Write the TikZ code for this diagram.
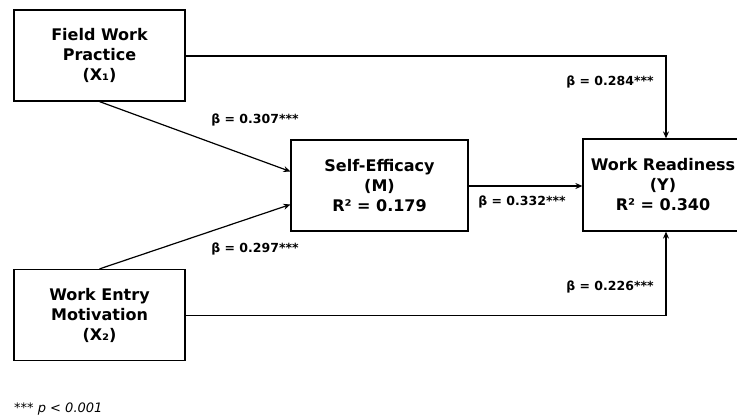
\documentclass[tikz,border=0pt]{standalone}
\usepackage{fontspec}
\setmainfont{DejaVu Sans}
\usetikzlibrary{arrows.meta}
\begin{document}
\begin{tikzpicture}[x=1pt,y=-1pt,
  box/.style={draw,line width=1.2pt,inner sep=0pt,align=center,font=\fontsize{16}{20}\selectfont\bfseries},
  conn/.style={line width=1.2pt},
  arr/.style={conn,-{Stealth[length=7pt,width=6pt]}},
  lab/.style={font=\fontsize{12.5}{14}\selectfont\bfseries,inner sep=0pt}]
\useasboundingbox (0,0) rectangle (737,417);
\clip (0,0) rectangle (737,417);
\node[box,minimum width=171pt,minimum height=91pt] (X1) at (99.5,55.5) {Field Work\\Practice\\(X₁)};
\node[box,minimum width=171pt,minimum height=91pt] (X2) at (99.5,315) {Work Entry\\Motivation\\(X₂)};
\node[box,minimum width=177pt,minimum height=91pt] (M) at (379.5,185.5) {Self-Efficacy\\(M)\\R² = 0.179};
\node[box,minimum width=160pt,minimum height=92pt] (Y) at (663,185) {Work Readiness\\(Y)\\R² = 0.340};
\coordinate (c1) at (666,56);
\coordinate (c2) at (666,315.5);
\draw[arr] (X1.south) -- ([yshift=14pt]M.west);
\draw[arr] (X2.north) -- ([yshift=-19pt]M.west);
\draw[arr] (M.east |- 0,186) -- (Y.west |- 0,186);
\draw[arr] (X1.east |- c1) -- (c1) -- (c1 |- Y.north);
\draw[arr] (X2.east |- c2) -- (c2) -- (c2 |- Y.south);
\node[lab] (l1) at (255,120) {β = 0.307***};
\node[lab] (l2) at (255,249) {β = 0.297***};
\node[lab] (l3) at (522,202) {β = 0.332***};
\node[lab] (l4) at (610,82) {β = 0.284***};
\node[lab] (l5) at (610,287) {β = 0.226***};
\node[font=\fontsize{13}{15}\selectfont\itshape,anchor=base west,inner sep=0pt] (fn) at (14,412) {*** p < 0.001};
\end{tikzpicture}
\end{document}
